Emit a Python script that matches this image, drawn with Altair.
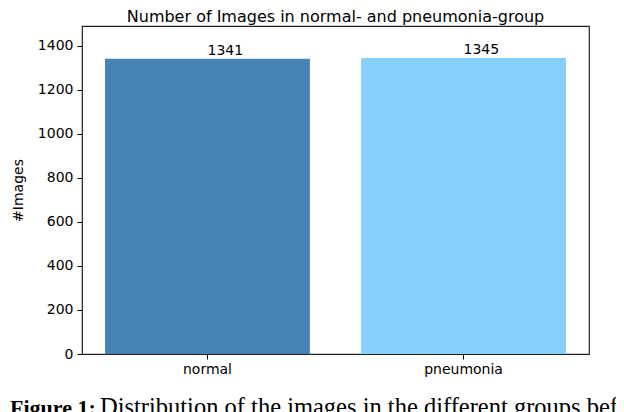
import altair as alt
import pandas as pd

categories = ["normal", "pneumonia"]
counts = [1341, 1345]
bar_colors = ["#4682B4", "#87CEFA"]
y_ticks = [0, 200, 400, 600, 800, 1000, 1200, 1400]
caption_bold = ["Figure 1:"]
caption_rest = ["Distribution of the images in the different groups before"]

df = pd.DataFrame({"group": categories, "count": counts})

FONT = "DejaVu Sans"

base = alt.Chart(df)

bars = base.mark_bar().encode(
    x=alt.X(
        "group:N",
        sort=categories,
        scale=alt.Scale(paddingInner=0.2, paddingOuter=0.09),
        axis=alt.Axis(
            title=None, labelAngle=0, labelFont=FONT, labelFontSize=14,
            labelColor="black", tickColor="black", tickSize=5, tickWidth=1,
            labelPadding=3, domain=False, grid=False,
        ),
    ),
    y=alt.Y(
        "count:Q",
        scale=alt.Scale(domain=[0, 1490], nice=False, zero=True),
        axis=alt.Axis(
            values=y_ticks, format="d", title="#Images", titleFont=FONT,
            titleFontSize=14, titleFontWeight="normal", titleColor="black",
            titleX=-64, titleY=164, titleAngle=270, titleAlign="center",
            titleBaseline="middle",
            labelFont=FONT, labelFontSize=14, labelColor="black",
            tickColor="black", tickSize=5, tickWidth=1, labelPadding=4,
            domain=False, grid=False,
        ),
    ),
    color=alt.Color(
        "group:N",
        scale=alt.Scale(domain=categories, range=bar_colors),
        legend=None,
    ),
)

labels = base.mark_text(
    align="left", baseline="bottom", dy=-1, font=FONT, fontSize=14, color="black"
).encode(
    x=alt.X("group:N", sort=categories),
    y=alt.Y("count:Q"),
    text=alt.Text("count:Q", format="d"),
)

cap1 = alt.Chart(pd.DataFrame({"t": caption_bold})).mark_text(
    align="left", baseline="alphabetic", font="Liberation Serif",
    fontSize=22, fontWeight="bold", color="black",
).encode(x=alt.value(-72), y=alt.value(389), text="t:N")

cap2 = alt.Chart(pd.DataFrame({"t": caption_rest})).mark_text(
    align="left", baseline="alphabetic", font="Liberation Serif",
    fontSize=24.5, color="black",
).encode(x=alt.value(18), y=alt.value(389), text="t:N")

chart = (
    alt.layer(bars, labels, cap1, cap2)
    .properties(
        width=507,
        height=328,
        autosize="none",
        padding={"left": 74, "top": 18, "right": 27, "bottom": 70},
        title=alt.Title(
            "Number of Images in normal- and pneumonia-group",
            font=FONT, fontSize=16, fontWeight="normal", color="black",
            anchor="middle", offset=1,
        ),
    )
    .configure(background="white")
    .configure_view(stroke="#222222", strokeWidth=1.2)
)

chart.save("out.html", embed_options={"renderer": "svg", "actions": False})
